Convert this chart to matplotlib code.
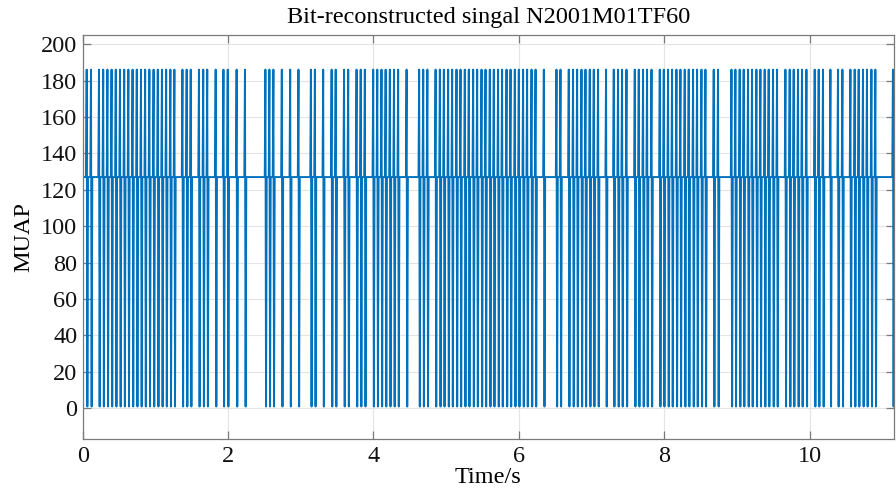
"""Bit-reconstructed MUAP spike train, MATLAB-like look."""
import numpy as np
import matplotlib
matplotlib.use("Agg")
import matplotlib.pyplot as plt

# spike times (s)
spike_times = [
    0.055, 0.114,
    0.224, 0.282, 0.340, 0.397, 0.455, 0.513, 0.571, 0.628, 0.686, 0.744,
    0.802, 0.859, 0.917, 0.975, 1.033, 1.090, 1.148, 1.206, 1.261,
    1.372, 1.430, 1.486, 1.599, 1.658, 1.713, 1.829, 1.936, 1.995, 2.117, 2.232,
    2.513, 2.568, 2.623, 2.739, 2.854, 2.968, 3.139, 3.194, 3.308, 3.424, 3.480,
    3.595, 3.652, 3.767, 3.824, 3.881,
    3.996, 4.052, 4.110, 4.167, 4.225, 4.282, 4.339, 4.455, 4.628, 4.684, 4.741,
    4.854, 4.913, 4.968, 5.027, 5.082, 5.142, 5.197, 5.256, 5.311, 5.371, 5.426,
    5.486, 5.541, 5.600, 5.655, 5.714, 5.769, 5.830, 5.885, 5.944, 5.999, 6.058,
    6.113, 6.174, 6.229, 6.343, 6.517, 6.572,
    6.686, 6.745, 6.801, 6.861, 6.916, 6.975, 7.030, 7.089, 7.199,
    7.305, 7.364, 7.419, 7.480, 7.594, 7.649, 7.708, 7.763, 7.824,
    7.938, 7.993, 8.052, 8.107, 8.167, 8.222, 8.281, 8.336, 8.396, 8.451, 8.511,
    8.566, 8.680, 8.739,
    8.924, 8.978, 9.037, 9.092, 9.152, 9.207, 9.267, 9.322, 9.381, 9.436, 9.496,
    9.551, 9.666, 9.725, 9.780, 9.839, 9.894, 9.955, 10.069, 10.124, 10.183,
    10.285, 10.389, 10.450, 10.560, 10.619, 10.674, 10.733, 10.788, 10.849,
    10.903, 11.145,
]
baseline = 127
spike_high = 186
spike_low = 1
t_end = 11.16

BLUE = "#0072BD"
AXC = "#7a7a7a"

# build the waveform: baseline -> up -> down -> baseline for each spike
d = 0.009
t = [0.0]
y = [baseline]
for s in spike_times:
    t += [s - d, s, s + d, s + 2 * d]
    y += [baseline, spike_high, spike_low, baseline]
t.append(t_end)
y.append(baseline)

plt.rcParams["font.family"] = ["Liberation Serif", "DejaVu Serif"]
FS = 17.5

fig = plt.figure(figsize=(8.96, 4.90), dpi=100)
ax = fig.add_axes([0.0923, 0.1035, 0.9055, 0.825])

ax.plot(t, y, color=BLUE, linewidth=1.4)

ax.set_xlim(0, t_end)
ax.set_ylim(-17, 205)
ax.set_xticks(np.arange(0, 11, 2))
ax.set_yticks(np.arange(0, 201, 20))
ax.grid(True, color="#e3e3e3", linewidth=0.8)
ax.set_axisbelow(True)

for sp in ax.spines.values():
    sp.set_color(AXC)
    sp.set_linewidth(0.9)
ax.tick_params(direction="in", length=5.5, width=0.9, color=AXC,
               labelsize=FS, labelcolor="#111111",
               top=True, right=True, pad=4)
ax.tick_params(axis="x", pad=5)

ax.set_title("Bit-reconstructed singal N2001M01TF60", fontsize=FS, pad=9)
ax.set_xlabel("Time/s", fontsize=FS, labelpad=-0.5)
ax.set_ylabel("MUAP", fontsize=FS, labelpad=5)

fig.savefig("out.png", dpi=100)
